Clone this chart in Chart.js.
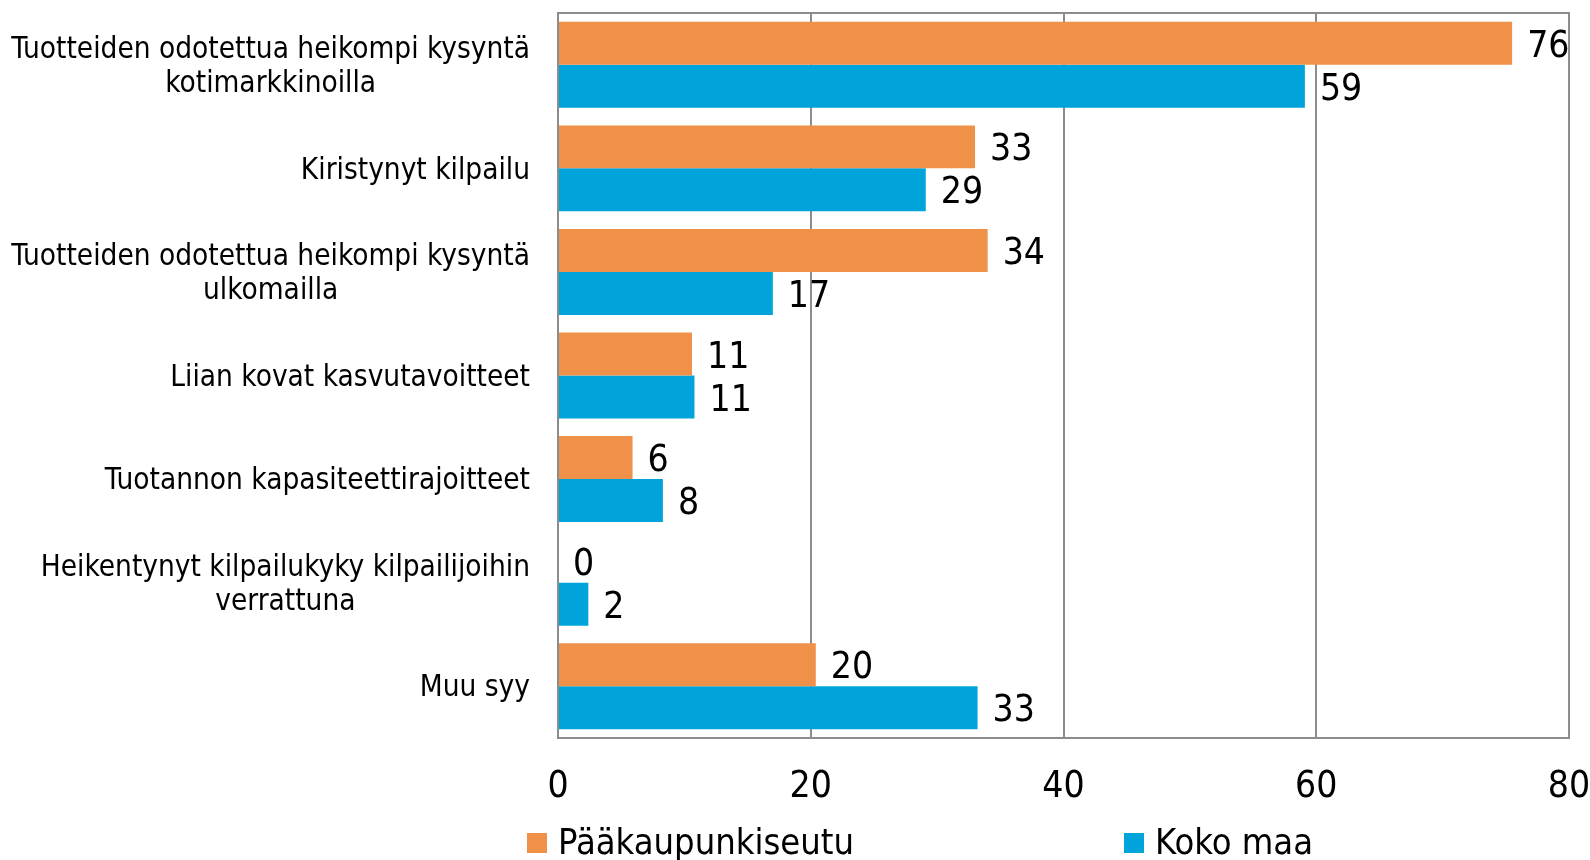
<!DOCTYPE html>
<html>
<head>
<meta charset="utf-8">
<script src="https://cdn.jsdelivr.net/npm/chart.js@4"></script>
<style>
    body { margin: 0; background: #fff; }
    #wrap { width: 1590px; height: 860px; position: relative; }
</style>
</head>
<body>
<div id="wrap"><canvas id="syytChart"></canvas></div>
<script>
// data
const categories = [
    ['Tuotteiden odotettua heikompi kysyntä', 'kotimarkkinoilla'],
    'Kiristynyt kilpailu',
    ['Tuotteiden odotettua heikompi kysyntä', 'ulkomailla'],
    'Liian kovat kasvutavoitteet',
    'Tuotannon kapasiteettirajoitteet',
    ['Heikentynyt kilpailukyky kilpailijoihin', 'verrattuna'],
    'Muu syy'
];
const seriesNames = ['Pääkaupunkiseutu', 'Koko maa'];
const paakaupunkiseutu = [75.5, 33, 34, 10.6, 5.9, 0, 20.4];
const kokoMaa = [59.1, 29.1, 17, 10.8, 8.3, 2.4, 33.2];
const xTicks = [0, 20, 40, 60, 80];

const FONT = "'DejaVu Sans Condensed', 'DejaVu Sans', sans-serif";
const gridColor = '#8c8c8c';
const colors = ['#f0914a', '#00a4da'];

Chart.defaults.font.family = FONT;
Chart.defaults.color = '#000';

// values next to bar ends (rounded like in the original)
const valueLabels = {
    id: 'valueLabels',
    afterDatasetsDraw(chart) {
        const ctx = chart.ctx;
        ctx.save();
        ctx.font = '37px ' + FONT;
        ctx.fillStyle = '#000';
        ctx.textAlign = 'left';
        ctx.textBaseline = 'middle';
        chart.data.datasets.forEach((ds, i) => {
            chart.getDatasetMeta(i).data.forEach((bar, j) => {
                ctx.fillText(String(Math.round(ds.data[j])), bar.x + 15, bar.y + 4);
            });
        });
        ctx.restore();
    }
};

// category labels: block right aligned, lines centred inside the block
const categoryLabels = {
    id: 'categoryLabels',
    afterDraw(chart) {
        const scale = chart.scales.y;
        const ctx = chart.ctx;
        const lineH = 34;
        ctx.save();
        ctx.font = '29.5px ' + FONT;
        ctx.fillStyle = '#000';
        ctx.textAlign = 'center';
        ctx.textBaseline = 'middle';
        chart.data.labels.forEach((lab, i) => {
            const lines = [].concat(lab);
            const w = Math.max(...lines.map(l => ctx.measureText(l).width));
            const cx = scale.right - 28 - w / 2;
            const y0 = scale.getPixelForTick(i) + 2.5 - (lines.length - 1) * lineH / 2;
            lines.forEach((l, k) => ctx.fillText(l, cx, y0 + k * lineH));
        });
        ctx.restore();
    }
};

// box round the plot area
const plotFrame = {
    id: 'plotFrame',
    afterDatasetsDraw(chart) {
        const a = chart.chartArea;
        const ctx = chart.ctx;
        ctx.save();
        ctx.strokeStyle = gridColor;
        ctx.lineWidth = 2;
        ctx.strokeRect(a.left, a.top, a.right - a.left, a.bottom - a.top);
        ctx.restore();
    }
};

// legend in the Excel style, under the axis
const bottomLegend = {
    id: 'bottomLegend',
    afterDraw(chart) {
        const ctx = chart.ctx;
        const xs = [527, 1124];
        const y = 843;
        ctx.save();
        ctx.font = '36px ' + FONT;
        ctx.textAlign = 'left';
        ctx.textBaseline = 'middle';
        chart.data.datasets.forEach((ds, i) => {
            ctx.fillStyle = ds.backgroundColor;
            ctx.fillRect(xs[i], y - 10, 20, 20);
            ctx.fillStyle = '#000';
            ctx.fillText(ds.label, xs[i] + 31, y + 2);
        });
        ctx.restore();
    }
};

new Chart(document.getElementById('syytChart'), {
    type: 'bar',
    data: {
        labels: categories,
        datasets: [{
                label: seriesNames[0],
                data: paakaupunkiseutu,
                backgroundColor: colors[0]
            }, {
                label: seriesNames[1],
                data: kokoMaa,
                backgroundColor: colors[1]
            }]
    },
    options: {
        indexAxis: 'y',
        responsive: true,
        maintainAspectRatio: false,
        animation: false,
        layout: {
            padding: {top: 13, right: 21, bottom: 51, left: 0}
        },
        datasets: {
            bar: {
                categoryPercentage: 0.83,
                barPercentage: 1.0
            }
        },
        scales: {
            x: {
                min: 0,
                max: 80,
                afterBuildTicks: (axis) => {
                    axis.ticks = xTicks.map(v => ({value: v}));
                },
                afterFit: (axis) => {
                    axis.height = 71;
                    axis.paddingLeft = 0;
                    axis.paddingRight = 0;
                },
                grid: {
                    color: gridColor,
                    lineWidth: 2,
                    drawTicks: false
                },
                border: {color: gridColor, width: 2},
                ticks: {
                    padding: 27,
                    maxRotation: 0,
                    font: {size: 37, lineHeight: 1.2}
                }
            },
            y: {
                grid: {display: false, drawTicks: false},
                border: {color: gridColor, width: 2},
                afterFit: (axis) => {
                    axis.width = 558;
                    axis.paddingTop = 0;
                    axis.paddingBottom = 0;
                },
                ticks: {display: false}
            }
        },
        plugins: {
            legend: {display: false},
            tooltip: {enabled: false}
        }
    },
    plugins: [valueLabels, categoryLabels, plotFrame, bottomLegend]
});
</script>
</body>
</html>
